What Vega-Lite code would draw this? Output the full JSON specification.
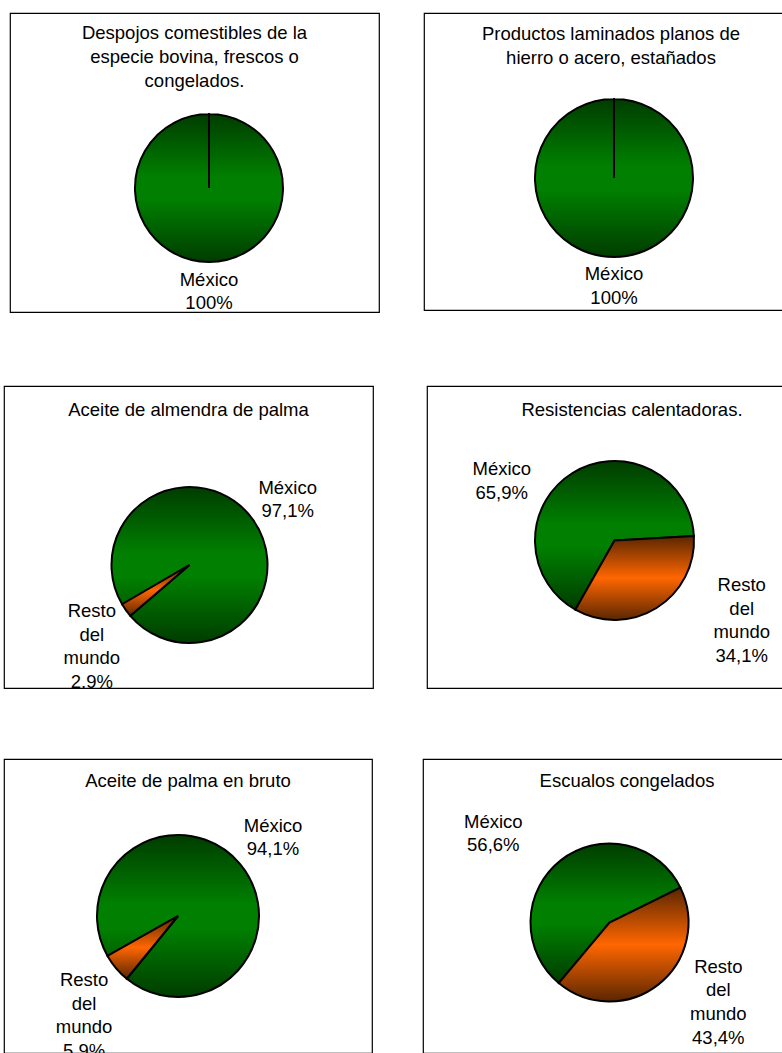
{
  "$schema": "https://vega.github.io/schema/vega-lite/v6.json",
  "background": "white",
  "padding": {"left": 3, "top": 12, "right": 0, "bottom": 0},
  "spacing": 69,
  "vconcat": [
    {
      "spacing": 72,
      "vconcat": [
        {
          "spacing": 4,
          "hconcat": [
            {"width": 1, "height": 1, "data": {"values": [{"a": 0}]}, "mark": {"type": "point", "opacity": 0, "size": 0}, "view": {"stroke": null}},
            {
              "spacing": 43,
              "hconcat": [
                {
                  "width": 369, "height": 299,
                  "view": {"stroke": "black", "strokeWidth": 1.2},
                  "title": {"text": ["Despojos comestibles de la", "especie bovina, frescos o", "congelados."], "offset": -77},
                  "data": {"values": [{"pais": "México", "participacion": 100, "etiqueta": "México 100%"}]},
                  "transform": [{"stack": "participacion", "groupby": [], "sort": [{"field": "pais", "order": "ascending"}], "as": ["inicio", "fin"]}],
                  "encoding": {"theta": {"field": "inicio", "type": "quantitative", "stack": null, "scale": {"domain": [0, 100], "range": [0, 6.2825]}}},
                  "layer": [
                    {"transform": [{"filter": "datum.pais === 'México'"}], "mark": {"type": "arc", "outerRadius": 74, "xOffset": 14.5, "yOffset": 25.5, "fill": {"gradient": "linear", "x1": 0, "y1": 0, "x2": 0, "y2": 1, "stops": [{"offset": 0, "color": "#003c00"}, {"offset": 0.42, "color": "#007f00"}, {"offset": 0.58, "color": "#007f00"}, {"offset": 1, "color": "#003c00"}]}}, "encoding": {"theta2": {"field": "fin"}}},
                    {"transform": [{"filter": "datum.pais === 'México'"}], "mark": {"type": "text", "radius": 91.5, "thetaOffset": 3.1416, "xOffset": 14.5, "yOffset": 25.5, "clip": true}, "encoding": {"text": {"field": "etiqueta"}}}
                  ]
                },
                {
                  "width": 374, "height": 297,
                  "view": {"stroke": "black", "strokeWidth": 1.2},
                  "title": {"text": ["Productos laminados planos de", "hierro o acero, estañados"], "offset": -54},
                  "data": {"values": [{"pais": "México", "participacion": 100, "etiqueta": "México 100%"}]},
                  "transform": [{"stack": "participacion", "groupby": [], "sort": [{"field": "pais", "order": "ascending"}], "as": ["inicio", "fin"]}],
                  "encoding": {"theta": {"field": "inicio", "type": "quantitative", "stack": null, "scale": {"domain": [0, 100], "range": [0, 6.2825]}}},
                  "layer": [
                    {"transform": [{"filter": "datum.pais === 'México'"}], "mark": {"type": "arc", "outerRadius": 79, "xOffset": 3, "yOffset": 16.5, "fill": {"gradient": "linear", "x1": 0, "y1": 0, "x2": 0, "y2": 1, "stops": [{"offset": 0, "color": "#003c00"}, {"offset": 0.42, "color": "#007f00"}, {"offset": 0.58, "color": "#007f00"}, {"offset": 1, "color": "#003c00"}]}}, "encoding": {"theta2": {"field": "fin"}}},
                    {"transform": [{"filter": "datum.pais === 'México'"}], "mark": {"type": "text", "radius": 96, "thetaOffset": 3.1416, "xOffset": 3, "yOffset": 16.5, "clip": true}, "encoding": {"text": {"field": "etiqueta"}}}
                  ]
                }
              ]
            }
          ]
        },
        {
          "spacing": 52,
          "hconcat": [
            {
              "width": 369, "height": 302,
              "view": {"stroke": "black", "strokeWidth": 1.2},
              "title": {"text": "Aceite de almendra de palma", "offset": -33},
              "data": {"values": [{"pais": "México", "participacion": 97.1, "etiqueta": "México 97,1%"}, {"pais": "Resto del mundo", "participacion": 2.9, "etiqueta": "Resto del mundo 2,9%"}]},
              "transform": [{"stack": "participacion", "groupby": [], "sort": [{"field": "pais", "order": "ascending"}], "as": ["inicio", "fin"]}],
              "encoding": {"theta": {"field": "inicio", "type": "quantitative", "stack": null, "scale": {"domain": [0, 100], "range": [4.185, 10.4682]}}},
              "layer": [
                {"transform": [{"filter": "datum.pais === 'México'"}], "mark": {"type": "arc", "outerRadius": 78, "xOffset": 1, "yOffset": 28, "fill": {"gradient": "linear", "x1": 0, "y1": 0, "x2": 0, "y2": 1, "stops": [{"offset": 0, "color": "#003c00"}, {"offset": 0.42, "color": "#007f00"}, {"offset": 0.58, "color": "#007f00"}, {"offset": 1, "color": "#003c00"}]}}, "encoding": {"theta2": {"field": "fin"}}},
                {"transform": [{"filter": "datum.pais === 'Resto del mundo'"}], "mark": {"type": "arc", "outerRadius": 78, "xOffset": 1, "yOffset": 28, "fill": {"gradient": "linear", "x1": 0, "y1": 0, "x2": 0, "y2": 1, "stops": [{"offset": 0, "color": "#5a2600"}, {"offset": 0.5, "color": "#ff6600"}, {"offset": 1, "color": "#5a2600"}]}}, "encoding": {"theta2": {"field": "fin"}}},
                {"transform": [{"filter": "datum.pais === 'México'"}], "mark": {"type": "text", "radius": 125, "thetaOffset": 3.002, "xOffset": 1, "yOffset": 28, "clip": true}, "encoding": {"text": {"field": "etiqueta"}}},
                {"transform": [{"filter": "datum.pais === 'Resto del mundo'"}], "mark": {"type": "text", "radius": 108, "thetaOffset": 0.2695, "xOffset": 1, "yOffset": 28, "clip": true}, "encoding": {"text": {"field": "etiqueta"}}}
              ]
            },
            {
              "width": 410, "height": 302,
              "view": {"stroke": "black", "strokeWidth": 1.2},
              "title": {"text": "Resistencias calentadoras.", "offset": -33},
              "data": {"values": [{"pais": "México", "participacion": 65.9, "etiqueta": "México 65,9%"}, {"pais": "Resto del mundo", "participacion": 34.1, "etiqueta": "Resto del mundo 34,1%"}]},
              "transform": [{"stack": "participacion", "groupby": [], "sort": [{"field": "pais", "order": "ascending"}], "as": ["inicio", "fin"]}],
              "encoding": {"theta": {"field": "inicio", "type": "quantitative", "stack": null, "scale": {"domain": [0, 100], "range": [3.6565, 9.9397]}}},
              "layer": [
                {"transform": [{"filter": "datum.pais === 'México'"}], "mark": {"type": "arc", "outerRadius": 79.5, "xOffset": -17.5, "yOffset": 3.5, "fill": {"gradient": "linear", "x1": 0, "y1": 0, "x2": 0, "y2": 1, "stops": [{"offset": 0, "color": "#003c00"}, {"offset": 0.42, "color": "#007f00"}, {"offset": 0.58, "color": "#007f00"}, {"offset": 1, "color": "#003c00"}]}}, "encoding": {"theta2": {"field": "fin"}}},
                {"transform": [{"filter": "datum.pais === 'Resto del mundo'"}], "mark": {"type": "arc", "outerRadius": 79.5, "xOffset": -17.5, "yOffset": 3.5, "fill": {"gradient": "linear", "x1": 0, "y1": 0, "x2": 0, "y2": 1, "stops": [{"offset": 0, "color": "#5a2600"}, {"offset": 0.5, "color": "#ff6600"}, {"offset": 1, "color": "#5a2600"}]}}, "encoding": {"theta2": {"field": "fin"}}},
                {"transform": [{"filter": "datum.pais === 'México'"}], "mark": {"type": "text", "radius": 133.4, "thetaOffset": 1.62, "xOffset": -17.5, "yOffset": 3.5, "clip": true}, "encoding": {"text": {"field": "etiqueta"}}},
                {"transform": [{"filter": "datum.pais === 'Resto del mundo'"}], "mark": {"type": "text", "radius": 134.8, "thetaOffset": 0.394, "xOffset": -17.5, "yOffset": 3.5, "clip": true}, "encoding": {"text": {"field": "etiqueta"}}}
              ]
            }
          ]
        }
      ]
    },
    {
      "spacing": 49,
      "hconcat": [
        {
          "width": 368, "height": 294,
          "view": {"stroke": "black", "strokeWidth": 1.2},
          "title": {"text": "Aceite de  palma en bruto", "offset": -31},
          "data": {"values": [{"pais": "México", "participacion": 94.1, "etiqueta": "México 94,1%"}, {"pais": "Resto del mundo", "participacion": 5.9, "etiqueta": "Resto del mundo 5,9%"}]},
          "transform": [{"stack": "participacion", "groupby": [], "sort": [{"field": "pais", "order": "ascending"}], "as": ["inicio", "fin"]}],
          "encoding": {"theta": {"field": "inicio", "type": "quantitative", "stack": null, "scale": {"domain": [0, 100], "range": [4.197, 10.4802]}}},
          "layer": [
            {"transform": [{"filter": "datum.pais === 'México'"}], "mark": {"type": "arc", "outerRadius": 81, "xOffset": -10, "yOffset": 10, "fill": {"gradient": "linear", "x1": 0, "y1": 0, "x2": 0, "y2": 1, "stops": [{"offset": 0, "color": "#003c00"}, {"offset": 0.42, "color": "#007f00"}, {"offset": 0.58, "color": "#007f00"}, {"offset": 1, "color": "#003c00"}]}}, "encoding": {"theta2": {"field": "fin"}}},
            {"transform": [{"filter": "datum.pais === 'Resto del mundo'"}], "mark": {"type": "arc", "outerRadius": 81, "xOffset": -10, "yOffset": 10, "fill": {"gradient": "linear", "x1": 0, "y1": 0, "x2": 0, "y2": 1, "stops": [{"offset": 0, "color": "#5a2600"}, {"offset": 0.5, "color": "#ff6600"}, {"offset": 1, "color": "#5a2600"}]}}, "encoding": {"theta2": {"field": "fin"}}},
            {"transform": [{"filter": "datum.pais === 'México'"}], "mark": {"type": "text", "radius": 131.1, "thetaOffset": 2.897, "xOffset": -10, "yOffset": 10, "clip": true}, "encoding": {"text": {"field": "etiqueta"}}},
            {"transform": [{"filter": "datum.pais === 'Resto del mundo'"}], "mark": {"type": "text", "radius": 113.7, "thetaOffset": 0.288, "xOffset": -10, "yOffset": 10, "clip": true}, "encoding": {"text": {"field": "etiqueta"}}}
          ]
        },
        {
          "width": 408, "height": 294,
          "view": {"stroke": "black", "strokeWidth": 1.2},
          "title": {"text": "Escualos congelados", "offset": -31},
          "data": {"values": [{"pais": "México", "participacion": 56.6, "etiqueta": "México 56,6%"}, {"pais": "Resto del mundo", "participacion": 43.4, "etiqueta": "Resto del mundo 43,4%"}]},
          "transform": [{"stack": "participacion", "groupby": [], "sort": [{"field": "pais", "order": "ascending"}], "as": ["inicio", "fin"]}],
          "encoding": {"theta": {"field": "inicio", "type": "quantitative", "stack": null, "scale": {"domain": [0, 100], "range": [3.8397, 10.1229]}}},
          "layer": [
            {"transform": [{"filter": "datum.pais === 'México'"}], "mark": {"type": "arc", "outerRadius": 79, "xOffset": -17.5, "yOffset": 16.5, "fill": {"gradient": "linear", "x1": 0, "y1": 0, "x2": 0, "y2": 1, "stops": [{"offset": 0, "color": "#003c00"}, {"offset": 0.42, "color": "#007f00"}, {"offset": 0.58, "color": "#007f00"}, {"offset": 1, "color": "#003c00"}]}}, "encoding": {"theta2": {"field": "fin"}}},
            {"transform": [{"filter": "datum.pais === 'Resto del mundo'"}], "mark": {"type": "arc", "outerRadius": 79, "xOffset": -17.5, "yOffset": 16.5, "fill": {"gradient": "linear", "x1": 0, "y1": 0, "x2": 0, "y2": 1, "stops": [{"offset": 0, "color": "#5a2600"}, {"offset": 0.5, "color": "#ff6600"}, {"offset": 1, "color": "#5a2600"}]}}, "encoding": {"theta2": {"field": "fin"}}},
            {"transform": [{"filter": "datum.pais === 'México'"}], "mark": {"type": "text", "radius": 153.8, "thetaOffset": 1.587, "xOffset": -17.5, "yOffset": 16.5, "clip": true}, "encoding": {"text": {"field": "etiqueta"}}},
            {"transform": [{"filter": "datum.pais === 'Resto del mundo'"}], "mark": {"type": "text", "radius": 117.4, "thetaOffset": 0.843, "xOffset": -17.5, "yOffset": 16.5, "clip": true}, "encoding": {"text": {"field": "etiqueta"}}}
          ]
        }
      ]
    }
  ],
  "config": {
    "view": {"stroke": "black", "strokeWidth": 1.2},
    "title": {"font": "Liberation Sans", "fontSize": 18.5, "fontWeight": "normal", "color": "black", "lineHeight": 24, "anchor": "middle", "frame": "group", "baseline": "top"},
    "text": {"font": "Liberation Sans", "fontSize": 18.5, "lineHeight": 23.7, "lineBreak": " ", "align": "center", "baseline": "middle", "color": "black"},
    "arc": {"stroke": "black", "strokeWidth": 2}
  }
}
